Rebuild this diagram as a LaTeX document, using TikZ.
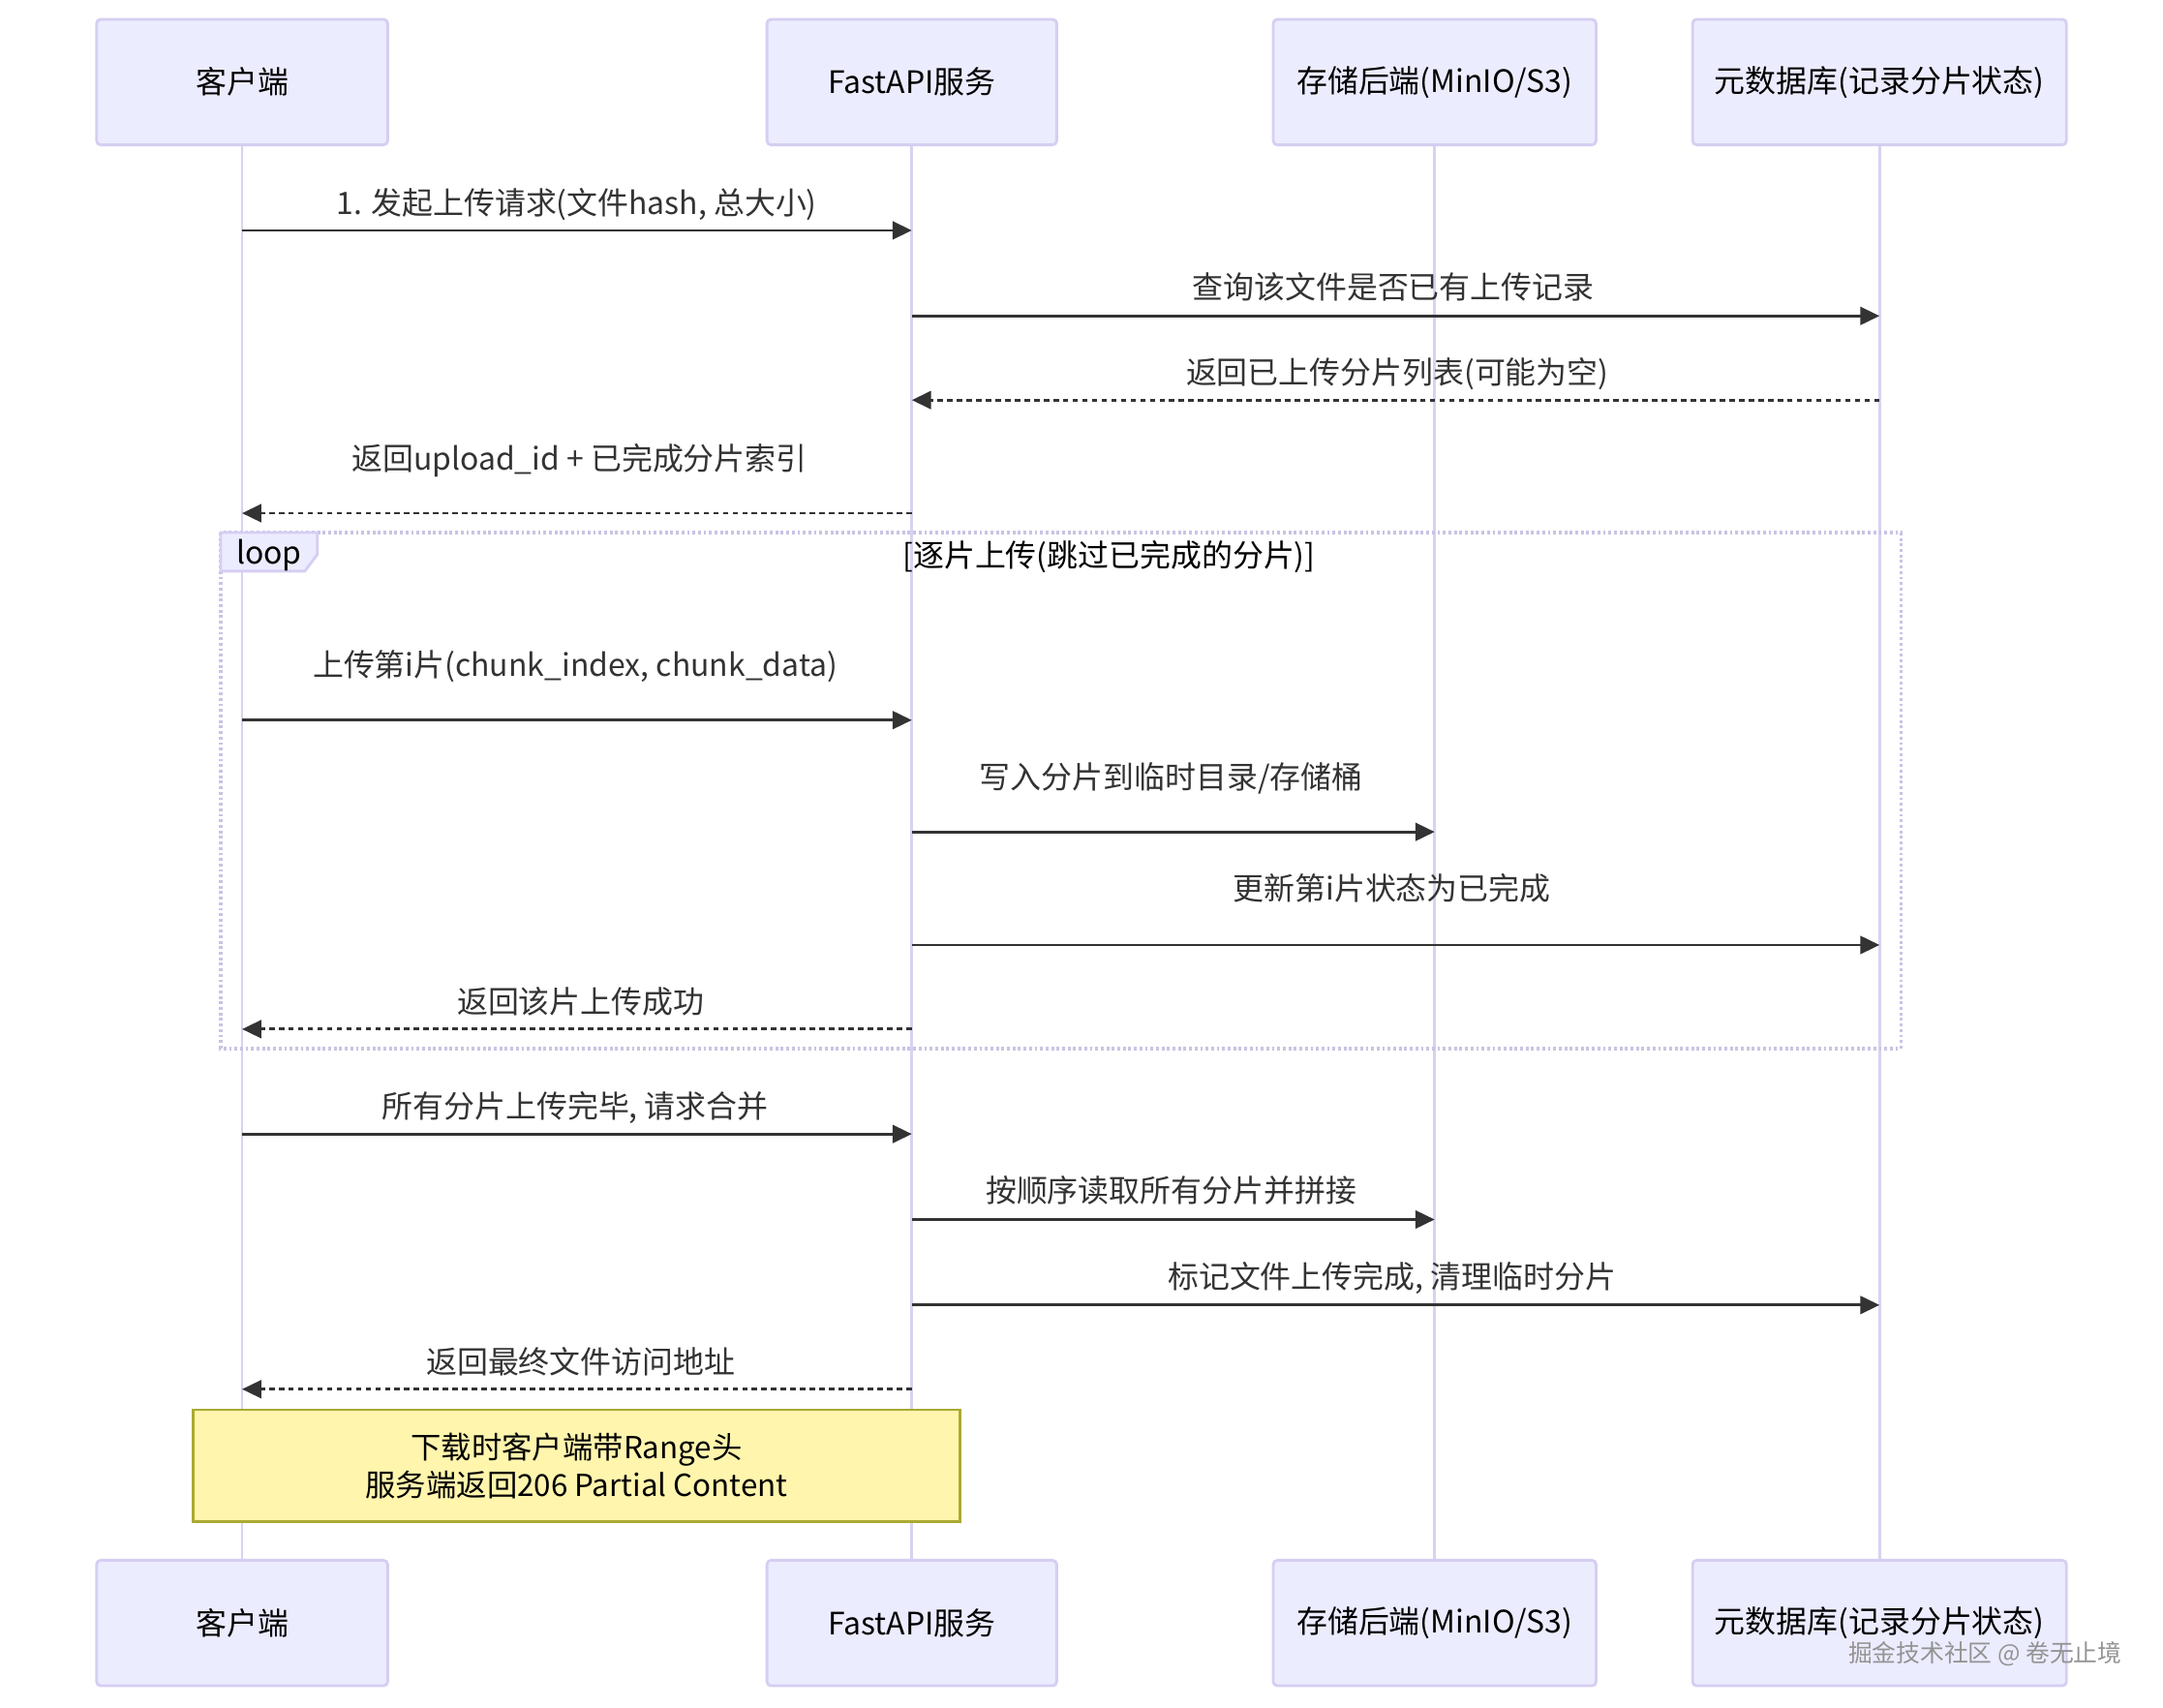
\documentclass[tikz,border=0pt]{standalone}
\usepackage{fontspec}
\setmainfont{Noto Sans CJK SC}
\usetikzlibrary{arrows.meta}
\definecolor{actfill}{HTML}{ECECFF}
\definecolor{actline}{HTML}{D6CEF2}
\definecolor{lifec}{HTML}{D8D2F0}
\definecolor{loopc}{HTML}{C8C4E4}
\definecolor{msgc}{HTML}{333333}
\definecolor{notefill}{HTML}{FFF5AD}
\definecolor{noteline}{HTML}{AAAA33}
\tikzset{
  actor/.style={draw=actline, line width=1pt, fill=actfill, rounded corners=1.5pt, minimum height=45.5pt, font=\fontsize{11.2pt}{13pt}\selectfont, text=black, inner sep=0pt},
  life/.style={draw=lifec, line width=1pt},
  msg/.style={draw=msgc, line width=1pt, -{Triangle[length=7pt,width=6.5pt]}},
  reply/.style={msg, dash pattern=on 2pt off 1.5pt},
  lbl/.style={font=\fontsize{11.2pt}{13pt}\selectfont, text=msgc, inner sep=0pt, anchor=base},
}
\begin{document}
\begin{tikzpicture}[x=0.5pt,y=-0.5pt]
\useasboundingbox (0,0) rectangle (1568,1238);
\fill[white] (0,0) rectangle (1568,1238);
% actors top
\node[actor, minimum width=105.5pt] (cliT) at (175.5,59.5) {客户端};
\node[actor, minimum width=105pt] (apiT) at (661,59.5) {FastAPI服务};
\node[actor, minimum width=117pt] (stoT) at (1040,59.5) {存储后端(MinIO/S3)};
\node[actor, minimum width=135.5pt] (metT) at (1362.5,59.5) {元数据库(记录分片状态)};
% actors bottom
\node[actor, minimum width=105.5pt] (cliB) at (175.5,1176.5) {客户端};
\node[actor, minimum width=105pt] (apiB) at (661,1176.5) {FastAPI服务};
\node[actor, minimum width=117pt] (stoB) at (1040,1176.5) {存储后端(MinIO/S3)};
\node[actor, minimum width=135.5pt] (metB) at (1362.5,1176.5) {元数据库(记录分片状态)};
% lifelines
\draw[life] (cliT.south) -- (cliB.north);
\draw[life] (apiT.south) -- (apiB.north);
\draw[life] (stoT.south) -- (stoB.north);
\draw[life] (metT.south) -- (metB.north);
% loop frame
\draw[loopc, line width=1.2pt, dash pattern=on 1pt off 1pt] (160,386) rectangle (1378,760);
\draw[actline, line width=1pt, fill=actfill] (160,386) -- (230,386) -- (230,402) -- (221,414) -- (160,414) -- cycle;
\node[lbl, anchor=center, text=black] (looplbl) at (195,402.5) {loop};
\node[lbl, anchor=center, text=black] (looptitle) at (804,403.5) {[逐片上传(跳过已完成的分片)]};
% messages
\node[lbl] (m1) at (418,155.5) {1. 发起上传请求(文件hash, 总大小)};
\draw[msg] (cliT |- 0,167) -- (apiT |- 0,167);
\node[lbl] (m2) at (1010,216.5) {查询该文件是否已有上传记录};
\draw[msg] (apiT |- 0,229) -- (metT |- 0,229);
\node[lbl] (m3) at (1013,278.5) {返回已上传分片列表(可能为空)};
\draw[reply] (metT |- 0,290) -- (apiT |- 0,290);
\node[lbl] (m4) at (420,340.5) {返回upload\_id + 已完成分片索引};
\draw[reply] (apiT |- 0,372) -- (cliT |- 0,372);
\node[lbl] (m5) at (417,490.5) {上传第i片(chunk\_index, chunk\_data)};
\draw[msg] (cliT |- 0,522) -- (apiT |- 0,522);
\node[lbl] (m6) at (849,571.5) {写入分片到临时目录/存储桶};
\draw[msg] (apiT |- 0,603) -- (stoT |- 0,603);
\node[lbl] (m7) at (1009,652.5) {更新第i片状态为已完成};
\draw[msg] (apiT |- 0,685) -- (metT |- 0,685);
\node[lbl] (m8) at (421,734.5) {返回该片上传成功};
\draw[reply] (apiT |- 0,746) -- (cliT |- 0,746);
\node[lbl] (m9) at (417,810.5) {所有分片上传完毕, 请求合并};
\draw[msg] (cliT |- 0,822) -- (apiT |- 0,822);
\node[lbl] (m10) at (849,871.5) {按顺序读取所有分片并拼接};
\draw[msg] (apiT |- 0,884) -- (stoT |- 0,884);
\node[lbl] (m11) at (1009,933.5) {标记文件上传完成, 清理临时分片};
\draw[msg] (apiT |- 0,946) -- (metT |- 0,946);
\node[lbl] (m12) at (421,995.5) {返回最终文件访问地址};
\draw[reply] (apiT |- 0,1007) -- (cliT |- 0,1007);
% note
\node[draw=noteline, line width=0.8pt, fill=notefill, minimum width=278pt, minimum height=40.5pt, align=center, font=\fontsize{11pt}{13.5pt}\selectfont, text=black, inner sep=0pt] (note) at (418,1062.5) {下载时客户端带Range头\\服务端返回206 Partial Content};
% watermark
\node[font=\fontsize{8.7pt}{10pt}\selectfont, text=gray!85, inner sep=0pt] (wm) at (1439,1199) {掘金技术社区 @ 卷无止境};
\end{tikzpicture}
\end{document}
